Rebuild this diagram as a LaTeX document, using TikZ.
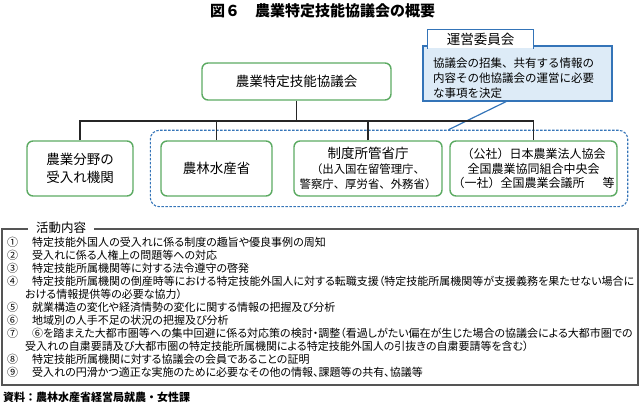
\documentclass[tikz,border=0pt]{standalone}
\usepackage{fontspec}
\setmainfont{Noto Sans CJK JP}
\newfontfamily\listfont[RawFeature=+palt]{Noto Sans CJK JP}
\usetikzlibrary{fit}

\definecolor{boxgreen}{RGB}{92,170,98}
\definecolor{linkblue}{RGB}{52,116,184}
\definecolor{notefill}{RGB}{221,235,247}
\definecolor{framegray}{RGB}{85,85,85}

\begin{document}
\begin{tikzpicture}[
    x=1pt, y=-1pt,
    member/.style={
        draw=boxgreen,
        line width=1.4pt,
        rounded corners=6pt,
        align=center,
        inner sep=0pt,
        minimum height=55pt,
        font=\fontsize{13.5}{18}\selectfont
    },
    link/.style={line width=1.8pt, draw=black!85},
    note/.style={draw=linkblue, line width=1.3pt, fill=notefill}
]

\useasboundingbox (0,0) rectangle (640,406);

\node (title) at (322.5,11) {\fontsize{15}{18}\selectfont\bfseries 図６　農業特定技能協議会の概要};

\node (council) [member, minimum width=189pt, minimum height=37pt] at (296.5,81.5)
    {農業特定技能協議会};

\node (hosts) [member, minimum width=106pt] at (80,168.5)
    {農業分野の\\受入れ機関};

\node (maff) [member, minimum width=111pt] at (216.5,168.5)
    {農林水産省};

\node (ministries) [member, minimum width=148pt, font=\fontsize{11.4}{15}\selectfont] at (368,168.5)
    {{\fontsize{13.5}{15}\selectfont 制度所管省庁}\\（出入国在留管理庁、\\警察庁、厚労省、外務省）};

\node (bodies) [member, minimum width=167pt, font=\fontsize{12}{14.5}\selectfont] at (533.5,168.5)
    {（公社）日本農業法人協会\\全国農業協同組合中央会\\（一社）全国農業会議所\hspace{1.5em}等};

\node (partners) [draw=linkblue, line width=1.1pt, dash pattern=on 2.5pt off 1.5pt,
    rounded corners=9pt, inner sep=10pt, fit=(maff)(ministries)(bodies)] {};

\node (note) [note, text width=169pt, align=left, inner xsep=10pt, inner ysep=0pt,
    font=\fontsize{11.5}{15}\selectfont] at (517.5,73.5)
    {\rule{0pt}{21.4pt}協議会の招集、共有する情報の\\内容その他協議会の運営に必要\\な事項を決定\rule[-3.6pt]{0pt}{0pt}};

\node (board) [fill=white, minimum width=105pt, minimum height=19pt, inner sep=0pt,
    font=\fontsize{13.5}{16}\selectfont] at (480.5,39) {運営委員会};
\draw [linkblue, line width=1.3pt] (board.south west) |- (board.north east) -- (board.south east);

\draw [linkblue, line width=1.2pt] ([xshift=-11.5pt]note.south) -- ([xshift=59.5pt]partners.north);

\coordinate (bus) at (296.5,121);
\draw [link] (council.south) -- (bus);
\draw [link] (hosts.north) |- (bus) -| (bodies.north);
\draw [link] (maff.north) -- (maff.north |- bus);
\draw [link] (ministries.north) -- (ministries.north |- bus);

\node (activities) [draw=framegray, line width=1.6pt, minimum width=636pt,
    minimum height=156pt] at (320,307) {};

\node (activitiestitle) [fill=white, inner xsep=8pt, font=\fontsize{12.5}{15}\selectfont]
    at (61,228) {活動内容};

\node (items) [anchor=north west, align=left, inner sep=0pt,
    font=\listfont\fontsize{11}{13}\selectfont] at (7,236.5)
    {\makebox[25pt][l]{①}特定技能外国人の受入れに係る制度の趣旨や優良事例の周知\\
     \makebox[25pt][l]{②}受入れに係る人権上の問題等への対応\\
     \makebox[25pt][l]{③}特定技能所属機関等に対する法令遵守の啓発\\
     \makebox[25pt][l]{④}特定技能所属機関の倒産時等における特定技能外国人に対する転職支援（特定技能所属機関等が支援義務を果たせない場合に\\
     \rule{18pt}{0pt}おける情報提供等の必要な協力）\\
     \makebox[25pt][l]{⑤}就業構造の変化や経済情勢の変化に関する情報の把握及び分析\\
     \makebox[25pt][l]{⑥}地域別の人手不足の状況の把握及び分析\\
     \makebox[25pt][l]{⑦}⑥を踏まえた大都市圏等への集中回避に係る対応策の検討・調整（看過しがたい偏在が生じた場合の協議会による大都市圏での\\
     \rule{18pt}{0pt}受入れの自粛要請及び大都市圏の特定技能所属機関による特定技能外国人の引抜きの自粛要請等を含む）\\
     \makebox[25pt][l]{⑧}特定技能所属機関に対する協議会の会員であることの証明\\
     \makebox[25pt][l]{⑨}受入れの円滑かつ適正な実施のために必要なその他の情報、課題等の共有、協議等};

\node (source) [anchor=west, inner sep=0pt, font=\fontsize{11}{13}\selectfont\bfseries]
    at (3,397) {資料：農林水産省経営局就農・女性課};

\end{tikzpicture}
\end{document}
